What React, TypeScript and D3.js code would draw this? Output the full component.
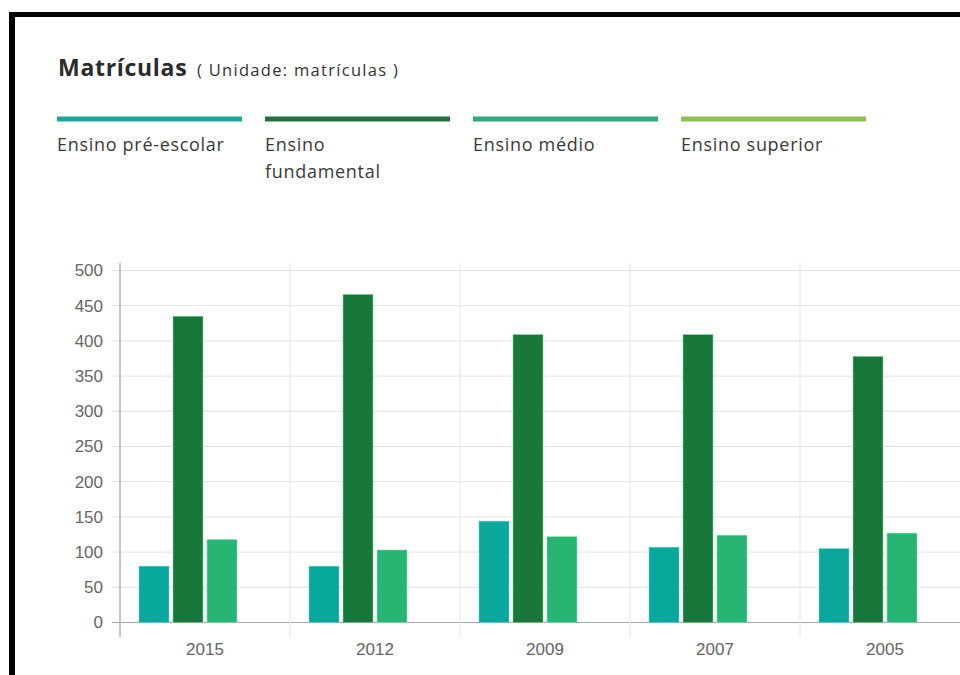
import React from "react";
import * as d3 from "d3";

const years = ["2015", "2012", "2009", "2007", "2005"];
const seriesNames = ["Ensino pré-escolar", "Ensino fundamental", "Ensino médio", "Ensino superior"];
const legendLines = [["Ensino pré-escolar"], ["Ensino", "fundamental"], ["Ensino médio"], ["Ensino superior"]];
const preEscolar = [80, 80, 144, 107, 105];
const fundamental = [435, 466, 409, 409, 378];
const medio = [118, 103, 122, 124, 127];
const superior: (number | null)[] = [null, null, null, null, null];
const yTicks = [0, 50, 100, 150, 200, 250, 300, 350, 400, 450, 500];

const barColors = ["#09a89c", "#18773a", "#27b574", "#8fc052"];
const barStrokes = ["#6fe0d6", "#7fe09a", "#8ff0b8", "#c8f0a0"];
const legendColors = ["#1ba69b", "#286d44", "#2faa7c", "#8fc052"];

export default function App() {
  const W = 960, H = 675;
  const left = 120, right = 970, top = 270.5, bottom = 622.5;
  const x = d3.scaleBand<string>().domain(years).range([left, right]).padding(0);
  const x1 = d3.scaleBand<string>().domain(seriesNames).range([19, 151]).paddingInner(0.118).paddingOuter(0);
  const y = d3.scaleLinear().domain([0, 500]).range([bottom, top]);
  const data = [preEscolar, fundamental, medio, superior];
  const axisFont = "'Liberation Sans', Arial, sans-serif";
  const textFont = "'Open Sans', sans-serif";
  const legendX = d3.scaleBand<string>().domain(seriesNames).range([57, 57 + 208 * 4]).padding(0);

  return (
    <div style={{ position: "absolute", left: 0, top: 0, width: W, height: H, background: "#fff" }}>
      <svg width={W} height={H} style={{ display: "block" }}>
        <rect x={0} y={0} width={W} height={H} fill="#fff" />
        {/* frame */}
        <rect x={9} y={12} width={W} height={5} fill="#000" />
        <rect x={9} y={12} width={6} height={H} fill="#000" />
        {/* title */}
        <text x={58} y={76} fontFamily={textFont} fill="#2b2b2b" fontSize={23} fontWeight="bold" letterSpacing={0.7}>Matrículas</text>
        <text x={197} y={76} fontFamily={textFont} fill="#333" fontSize={16.5} letterSpacing={1.3}>( Unidade: matrículas )</text>
        {/* legend */}
        {seriesNames.map((s, i) => (
          <g key={s}>
            <rect x={legendX(s)!} y={116.5} width={185} height={5} fill={legendColors[i]} />
            {legendLines[i].map((ln, j) => (
              <text key={j} x={legendX(s)!} y={151 + j * 27} fontFamily={textFont} fontSize={18} letterSpacing={0.7} fill="#3a3a3a">{ln}</text>
            ))}
          </g>
        ))}
        {/* horizontal grid */}
        {yTicks.map((t) => (
          <g key={t}>
            <line x1={112} x2={W} y1={y(t)} y2={y(t)} stroke={t === 0 ? "#a8a8a8" : "#e2e2e2"} strokeWidth={1} />
            <text x={103} y={y(t)} dy="0.35em" textAnchor="end" fontFamily={axisFont} fontSize={17} fill="#666">{t}</text>
          </g>
        ))}
        {/* vertical grid */}
        {years.map((yr) => (
          <line key={yr} x1={x(yr)!} x2={x(yr)!} y1={263} y2={637} stroke="#e4e4e4" />
        ))}
        <line x1={left} x2={left} y1={263} y2={637} stroke="#9a9a9a" />
        {/* bars */}
        {data.map((vals, si) =>
          vals.map((v, yi) =>
            v == null ? null : (
              <rect
                key={si + "-" + yi}
                x={x(years[yi])! + x1(seriesNames[si])!}
                y={y(v)}
                width={x1.bandwidth()}
                height={y(0) - y(v)}
                fill={barColors[si]}
                stroke={barStrokes[si]}
                strokeWidth={0.8}
                strokeOpacity={0.6}
              />
            )
          )
        )}
        {/* x labels */}
        {years.map((yr) => (
          <text key={yr} x={x(yr)! + x.bandwidth() / 2} y={655} textAnchor="middle" fontFamily={axisFont} fontSize={17} fill="#666">{yr}</text>
        ))}
      </svg>
    </div>
  );
}
